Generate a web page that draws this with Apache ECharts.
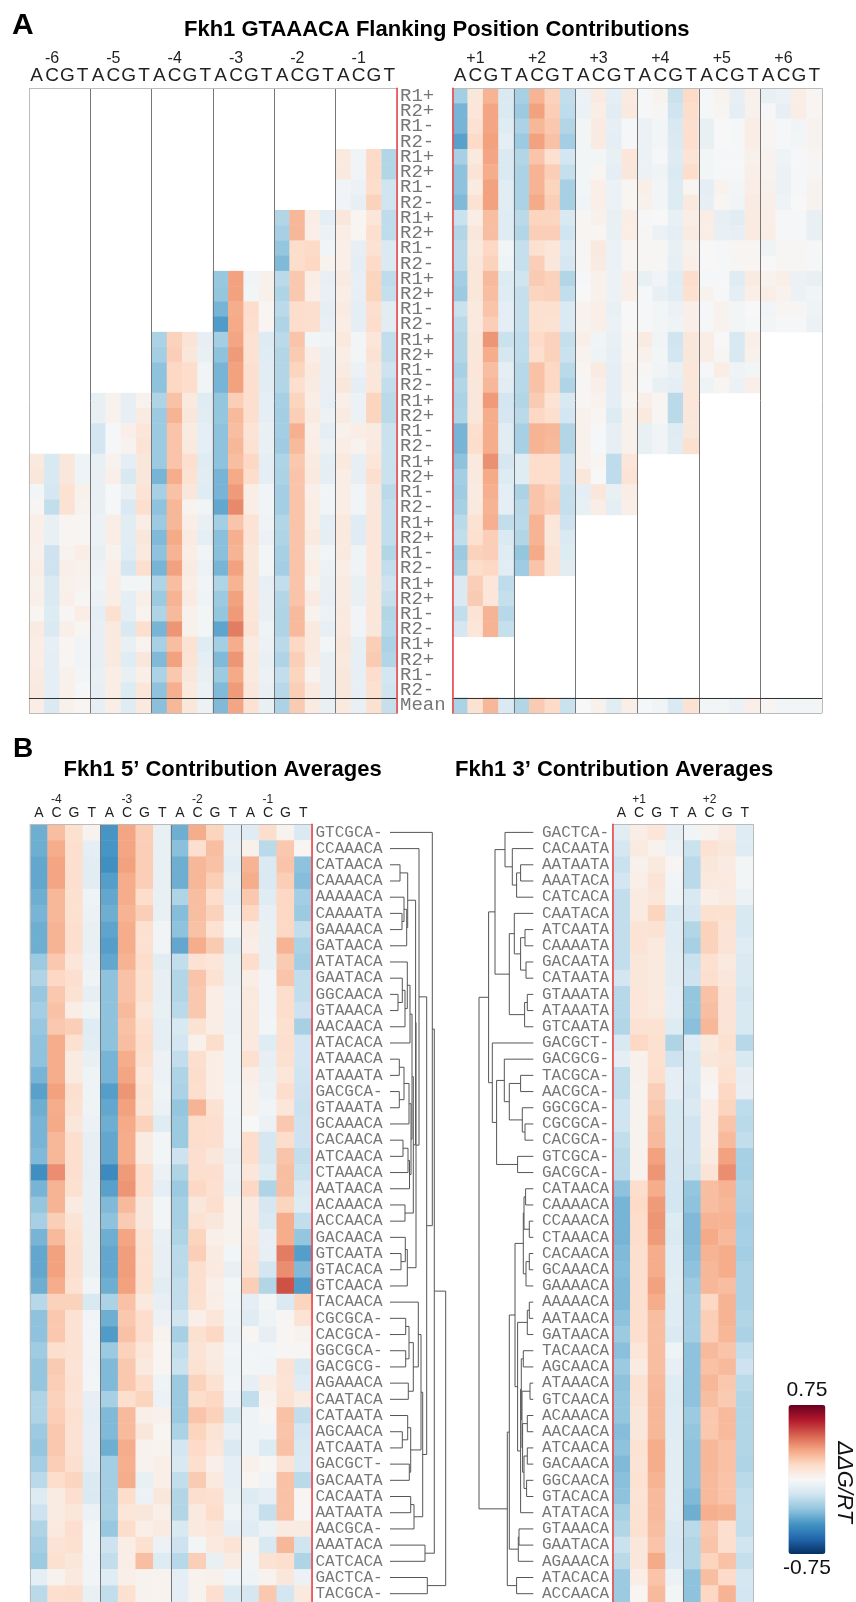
<!DOCTYPE html>
<html>
<head>
<meta charset="utf-8">
<style>html,body{margin:0;padding:0;background:#fff}#c{width:856px;height:1602px}</style>
<script src="https://cdn.jsdelivr.net/npm/echarts@6/dist/echarts.min.js"></script>
</head>
<body>
<div id="c"></div>
<script>
// ---------- labels ----------
const bases = ['A','C','G','T'];
const flankNeg = ['-6','-5','-4','-3','-2','-1'];
const flankPos = ['+1','+2','+3','+4','+5','+6'];
const avgNeg = ['-4','-3','-2','-1'];
const avgPos = ['+1','+2'];
const replicates = ['R1+','R2+','R1-','R2-'];
const meanLabel = 'Mean';
const seqs5 = ['GTCGCA-','CCAAACA','CATAACA','CAAAACA','AAAAACA','CAAAATA','GAAAACA','GATAACA','ATATACA','GAATACA','GGCAACA','GTAAACA','AACAACA','ATACACA','ATAAACA','ATAAATA','GACGCA-','GTAAATA','GCAAACA','CACAACA','ATCAACA','CTAAACA','AATAACA','ACAAACA','ACCAACA','GACAACA','GTCAATA','GTACACA','GTCAACA','TACAACA','CGCGCA-','CACGCA-','GGCGCA-','GACGCG-','AGAAACA','CAATACA','CATAATA','AGCAACA','ATCAATA','GACGCT-','GACAATA','CACAATA','AATAATA','AACGCA-','AAATACA','CATCACA','GACTCA-','TACGCA-'];
const seqs3 = ['GACTCA-','CACAATA','AATAATA','AAATACA','CATCACA','CAATACA','ATCAATA','CAAAATA','GACAATA','CATAATA','GTAAATA','ATAAATA','GTCAATA','GACGCT-','GACGCG-','TACGCA-','AACGCA-','GGCGCA-','CGCGCA-','CACGCA-','GTCGCA-','GACGCA-','CATAACA','CAAAACA','CCAAACA','CTAAACA','CACAACA','GCAAACA','GAAAACA','AAAAACA','AATAACA','GATAACA','TACAACA','AGCAACA','ATAAACA','GTCAACA','ACAAACA','AACAACA','ATCAACA','GACAACA','GGCAACA','GTACACA','ATATACA','GTAAACA','GAATACA','AGAAACA','ATACACA','ACCAACA'];

// values below in units of 1/108
const valueUnit = 108;

// ---------- panel A values, 5' positions: rows run down to the Mean row (last entry) ----------
const posM6 = [[8,-13,9,-4],[9,-13,9,-4],[-2,-14,12,4],[2,-20,12,3],[5,-6,2,2],[5,-6,2,2],[4,-17,3,6],[6,-17,5,4],[4,-12,4,3],[5,-12,5,1],[2,-11,1,6],[7,-12,5,2],[6,-7,2,-3],[6,-8,2,-3],[7,-8,4,-2],[8,-8,4,-1],[6,-12,4,2]];
const posM5 = [[-6,3,-7,3],[-6,3,-7,7],[-15,-1,5,10],[-15,-1,3,11],[-6,3,-8,9],[-6,5,-13,9],[-6,-1,-6,11],[-6,-1,-12,14],[-5,6,-9,6],[-5,6,-9,9],[-6,3,-10,8],[-5,5,-15,14],[-4,6,-2,-2],[-5,6,-8,5],[-8,13,-8,3],[-7,8,-13,14],[-7,8,-6,3],[-7,8,-10,9],[-6,6,-6,5],[-7,6,-11,10],[-7,6,-10,8]];
const posM4 = [[-26,19,11,-7],[-28,20,9,-6],[-33,17,15,-3],[-33,17,15,-3],[-25,24,8,-10],[-30,28,9,-9],[-30,23,7,-8],[-30,23,8,-8],[-30,23,14,-10],[-38,30,12,-9],[-27,24,9,-10],[-33,27,3,-3],[-30,27,6,-6],[-36,31,7,-8],[-33,28,6,-3],[-38,33,7,-5],[-25,25,6,-3],[-30,28,7,-4],[-25,26,4,-2],[-38,36,4,-2],[-27,25,12,-10],[-36,33,11,-8],[-26,22,9,-6],[-33,29,8,-5],[-34,27,9,-5]];
const posM3 = [[-31,33,-3,4],[-32,33,-2,4],[-38,30,15,2],[-46,31,14,2],[-28,32,12,-11],[-33,35,12,-10],[-38,33,14,-9],[-38,33,14,-9],[-32,20,14,-8],[-32,26,14,-8],[-33,25,11,-6],[-33,27,12,-6],[-33,25,17,-8],[-38,31,15,-8],[-38,35,6,-3],[-42,39,6,-3],[-28,23,11,-4],[-34,29,11,-5],[-34,28,9,-2],[-38,33,9,-2],[-25,28,9,-7],[-30,33,10,-6],[-32,35,10,-6],[-43,42,11,-4],[-28,30,7,-5],[-36,36,8,-6],[-30,31,8,-5],[-36,35,9,-6],[-36,32,12,-6]];
const posM2 = [[-24,27,6,-8],[-27,27,5,-5],[-32,15,16,-3],[-36,15,17,3],[-22,22,6,-7],[-25,22,5,-6],[-22,15,14,-8],[-25,15,14,-7],[-22,23,-2,-4],[-24,21,6,-6],[-24,18,8,-6],[-24,14,7,-6],[-27,18,6,-7],[-28,20,7,-5],[-28,29,5,-8],[-29,26,6,-5],[-25,22,7,-8],[-26,23,8,-8],[-28,23,5,-3],[-28,23,6,-3],[-24,23,6,-8],[-25,23,8,-8],[-27,23,4,-3],[-28,23,6,-5],[-20,23,3,-6],[-24,23,7,-7],[-25,26,3,-5],[-25,26,8,-7],[-22,17,8,-2],[-25,20,7,-6],[-20,18,3,-6],[-23,20,8,-6],[-26,21,7,-6]];
const posM1 = [[8,-3,16,-24],[8,-3,16,-24],[-3,-5,15,-16],[-3,-7,19,-16],[9,2,10,-21],[6,2,14,-21],[5,-7,12,-12],[5,-8,16,-12],[7,-7,18,-21],[6,-7,18,-19],[7,-8,14,-9],[6,-8,15,-9],[8,-2,10,-20],[6,-2,12,-20],[7,-5,9,-17],[9,-8,10,-20],[5,-5,18,-22],[7,-5,18,-22],[4,6,7,-18],[6,3,8,-18],[8,-7,10,-18],[6,-7,14,-18],[6,-3,9,-22],[6,-3,9,-20],[8,-10,10,-20],[8,-10,10,-20],[8,-4,10,-24],[6,-4,10,-20],[7,-6,9,-17],[7,-6,9,-19],[8,-3,10,-24],[8,-3,9,-23],[9,-7,20,-26],[8,-7,21,-24],[9,-7,15,-15],[9,-7,13,-16],[8,-6,13,-19]];
// 3' positions: rows run from the top, the last entry is the Mean row
const posP1 = [[-28,9,28,-12],[-38,10,32,-12],[-38,12,32,-10],[-44,16,33,-8],[-27,8,32,-12],[-33,11,30,-12],[-33,7,33,-9],[-36,12,33,-9],[-18,6,25,-10],[-24,9,25,-10],[-22,8,17,-2],[-22,9,19,-4],[-28,9,26,-11],[-30,9,25,-10],[-18,8,23,-8],[-22,8,20,-8],[-24,9,36,-18],[-24,9,30,-14],[-27,10,25,-8],[-24,9,27,-9],[-26,9,35,-15],[-25,9,30,-14],[-38,14,30,-9],[-38,15,30,-9],[-33,8,37,-14],[-28,8,31,-11],[-29,7,29,-8],[-27,8,28,-8],[-22,12,29,-20],[-20,13,20,-12],[-30,19,20,-10],[-27,15,17,-9],[-12,20,10,-21],[-12,21,10,-19],[-20,11,28,-23],[-14,10,28,-19],[-26,12,27,-12]];
const posP2 = [[-27,28,19,-20],[-30,33,20,-21],[-26,27,22,-24],[-30,33,24,-28],[-24,23,13,-15],[-26,28,20,-19],[-26,28,18,-27],[-26,31,20,-27],[-22,18,18,-13],[-24,20,20,-16],[-19,13,10,-12],[-19,20,9,-14],[-16,21,19,-24],[-19,18,19,-20],[-19,13,13,-12],[-19,13,12,-12],[-21,16,19,-19],[-21,14,19,-18],[-23,24,17,-22],[-23,24,17,-25],[-24,21,11,-13],[-22,17,14,-15],[-27,28,27,-24],[-27,28,26,-24],[-10,15,15,-17],[-10,15,15,-17],[-26,23,19,-19],[-23,23,20,-19],[-22,28,10,-17],[-24,28,9,-12],[-32,31,11,-11],[-29,23,11,-9],[-24,21,16,-18]];
const posP3 = [[-5,7,-8,7],[-5,6,-9,8],[-2,7,-7,-1],[-2,7,-8,-1],[-2,-2,-6,10],[-2,2,-8,9],[-2,5,-5,2],[-3,5,-5,2],[1,4,-6,6],[2,2,-6,6],[1,8,-5,2],[1,7,-5,2],[-1,4,-5,5],[0,4,-5,5],[3,5,-6,0],[3,5,-5,0],[5,-3,-6,2],[3,-4,-7,2],[2,7,-8,3],[1,5,-8,3],[1,3,-8,2],[4,2,-11,4],[4,-1,-7,4],[4,-1,-7,4],[4,2,-21,10],[9,0,-21,11],[-8,9,-6,6],[-6,6,-8,5],[0,4,-9,5]];
const posP4 = [[-1,3,-18,16],[-1,1,-16,15],[-5,-2,-13,14],[-5,-2,-12,14],[-5,-1,-11,11],[-5,-4,-12,15],[5,-2,-11,2],[4,-2,-11,8],[-1,0,-6,6],[1,-5,-8,7],[1,1,-6,4],[1,1,-7,5],[-6,-3,-10,15],[-1,-6,-9,13],[-1,-2,-5,5],[-1,-2,-4,5],[7,-3,-16,9],[4,-2,-15,9],[1,-3,-6,10],[-1,-6,-8,9],[5,2,-22,10],[8,1,-22,9],[-6,-3,-10,9],[-6,-3,-9,13],[-1,-3,-12,12]];
const posP5 = [[-1,3,-7,4],[-1,2,-8,4],[-6,0,-1,6],[-6,0,-1,6],[-2,-1,-1,4],[-2,-1,-1,5],[-8,3,-2,6],[-7,2,-3,7],[6,-7,-9,7],[6,-6,-7,7],[0,-1,2,2],[0,-1,1,2],[-1,-1,-10,7],[3,-1,-8,5],[-1,3,-2,0],[-1,3,-2,-1],[6,0,-13,5],[6,1,-13,4],[-1,6,-4,-2],[-4,2,-5,5],[-2,-2,-5,5]];
const posP6 = [[-6,-5,6,2],[-1,-7,6,2],[2,-1,-3,3],[2,-1,-2,3],[3,-4,-1,1],[3,-5,-1,1],[4,-5,-1,3],[5,-4,0,3],[5,-1,-1,-6],[6,-1,-1,-6],[-4,1,1,-1],[0,1,1,-1],[3,5,-5,-6],[6,3,-5,-3],[-3,2,1,-4],[-2,-1,-1,-5],[2,-2,-2,-2]];

// ---------- panel B values ----------
const avg5 = [
[-40,25,13,3,-48,32,20,-6,-40,30,18,-8,-10,15,3,-12],
[-40,30,14,-8,-48,32,20,-6,-34,14,25,-6,4,-22,22,2],
[-42,32,14,-9,-50,33,20,-6,-40,27,24,-9,28,-12,23,-33],
[-42,32,14,-9,-45,30,20,-6,-40,27,20,-6,30,-12,20,-35],
[-40,27,13,-4,-42,30,15,-6,-25,25,15,-8,22,-10,17,-28],
[-38,27,13,-5,-40,28,20,-6,-35,25,19,-5,17,-7,17,-30],
[-40,28,14,-6,-43,30,13,-3,-33,24,12,-2,7,-6,17,-20],
[-40,28,14,-6,-45,30,13,-3,-42,30,21,-10,6,-6,28,-26],
[-30,22,10,-5,-42,28,15,-9,-20,12,10,-6,15,-6,21,-28],
[-25,17,14,-4,-33,24,13,-7,-24,23,12,-6,6,-3,23,-20],
[-31,22,12,-7,-33,24,13,-7,-24,22,6,-5,8,-3,15,-20],
[-28,24,6,-4,-33,26,10,-6,-22,22,6,-5,8,-3,15,-17],
[-31,22,20,-10,-33,24,13,-8,-13,12,6,-5,8,-2,13,-27],
[-33,30,13,-9,-33,25,15,-8,-15,4,15,-4,8,-10,14,-15],
[-33,30,7,-6,-38,30,13,-5,-20,14,6,-4,13,-7,13,-15],
[-38,30,7,-4,-38,32,10,-5,-25,15,6,-4,6,-6,10,-16],
[-44,33,14,-4,-45,36,12,-4,-26,14,6,-3,4,-5,15,-17],
[-40,30,12,-4,-42,33,11,-5,-32,28,12,-3,4,-3,10,-18],
[-38,31,9,-5,-40,31,19,-10,-30,15,14,-4,0,-5,22,-17],
[-38,27,14,-7,-42,30,7,-2,-30,15,14,-4,15,-14,15,-17],
[-36,27,14,-7,-42,30,7,-2,-17,14,9,-6,15,-14,23,-20],
[-50,38,14,-7,-52,35,15,-5,-25,14,14,-5,10,-11,25,-18],
[-38,28,13,-6,-44,36,15,-8,-30,17,13,-6,17,-25,25,-13],
[-32,28,7,-6,-36,26,9,-2,-27,9,14,3,8,-14,18,-11],
[-27,20,11,-6,-33,21,9,-2,-27,12,9,3,8,-12,30,-20],
[-38,26,13,-6,-40,32,12,-6,-25,18,5,3,10,-7,30,-32],
[-42,33,14,-6,-42,34,13,-7,-22,20,7,-2,11,-7,42,-45],
[-42,33,14,-6,-42,34,13,-7,-22,14,8,-6,12,-15,38,-36],
[-40,30,12,-3,-40,33,13,-9,-20,14,5,-2,20,-24,52,-46],
[-23,19,19,-13,-26,24,8,-7,-20,13,6,-3,-8,-2,-12,18],
[-33,22,12,-3,-40,22,15,-5,-16,5,10,-4,-10,-4,1,11],
[-33,22,12,-3,-46,24,15,3,-27,13,17,-5,2,-7,2,3],
[-29,14,12,-2,-30,19,10,2,-20,11,7,-3,-3,-2,1,1],
[-32,21,11,-3,-36,22,8,2,-18,12,8,-4,-2,-3,12,-13],
[-32,20,12,-2,-36,22,15,-4,-30,19,12,-3,-7,6,11,-10],
[-25,19,11,-7,-27,14,18,-5,-30,15,17,-5,-20,3,12,7],
[-25,20,13,-8,-36,26,5,4,-30,23,19,-13,-4,1,24,-20],
[-30,22,12,-7,-36,26,9,2,-26,18,11,-6,-4,-3,23,-15],
[-32,22,12,-7,-40,30,3,3,-15,16,10,-12,-4,-11,24,-13],
[-28,20,14,-8,-28,29,3,5,-13,14,5,-8,4,1,11,-12],
[-22,15,18,-12,-28,30,-6,5,-20,21,8,-8,2,-3,24,-22],
[-11,7,14,-12,-28,15,-5,9,-24,14,13,-6,-11,-8,24,2],
[-17,7,10,-5,-27,10,9,5,-24,8,15,-4,-8,-19,24,1],
[-25,8,14,-2,-31,15,5,7,-13,8,10,-7,-10,-5,7,7],
[-28,11,13,-2,-17,6,13,-5,-17,-2,8,11,3,-13,27,-16],
[-30,13,9,-3,-20,6,25,-11,-23,20,-6,7,-3,12,14,-25],
[-8,3,8,-3,-10,5,3,3,-8,3,4,-3,-4,3,9,-5],
[-22,14,15,-6,-20,13,3,3,-8,3,14,-12,-14,22,-15,8]];
const avg3 = [
[-9,6,10,-7,-3,3,7,-10],[-14,8,3,-5,-18,12,9,-10],[-18,4,8,2,-22,9,7,-2],[-15,5,11,-3,-22,8,8,-2],
[-20,7,10,-4,-13,5,7,-5],[-20,7,18,-12,-15,13,13,-13],[-20,11,12,-10,-24,19,11,-13],[-20,11,8,-10,-27,19,11,-10],
[-20,9,8,-9,-18,13,8,-12],[-15,9,8,-9,-17,14,9,-12],[-23,10,8,-8,-32,24,11,-14],[-23,10,8,-8,-32,25,11,-13],
[-24,12,12,-11,-34,27,11,-13],[-13,17,13,-25,-10,8,13,-23],[-8,4,13,-17,-13,9,11,-13],[-20,4,15,-8,-13,3,13,-8],
[-20,3,20,-8,-14,1,17,-7],[-16,3,22,-13,-12,6,18,-21],[-16,3,25,-13,-16,6,23,-22],[-20,3,26,-13,-16,6,26,-20],
[-22,3,33,-14,-16,7,33,-27],[-22,3,36,-14,-18,11,38,-27],[-33,15,30,-15,-32,25,28,-25],[-38,16,35,-15,-33,25,27,-26],
[-38,15,36,-11,-36,28,28,-28],[-38,15,35,-12,-36,31,26,-27],[-36,14,30,-10,-35,28,30,-28],[-35,14,30,-10,-33,27,30,-26],
[-36,14,33,-9,-30,27,25,-26],[-36,14,30,-10,-28,17,28,-26],[-33,14,25,-10,-28,20,28,-24],[-30,14,25,-12,-28,20,27,-26],
[-34,10,25,-4,-33,26,23,-20],[-30,7,25,-7,-33,24,26,-17],[-33,12,26,-10,-33,27,22,-22],[-32,11,27,-11,-33,25,21,-24],
[-32,9,27,-10,-30,22,26,-24],[-35,9,27,-10,-32,22,26,-24],[-33,12,30,-9,-33,27,24,-24],[-36,11,30,-9,-33,27,24,-25],
[-34,12,28,-9,-33,26,23,-22],[-33,11,26,-9,-36,26,23,-20],[-27,12,26,-9,-40,29,28,-19],[-24,13,25,-12,-22,22,14,-20],
[-18,9,23,-13,-24,23,14,-16],[-22,9,31,-12,-24,18,24,-19],[-30,6,23,-5,-33,25,16,-14],[-30,2,26,-2,-33,17,28,-15]];

// ---------- dendrograms: [height, childA, childB]; a number is a leaf row ----------
const t5A = [17.7,[10,2,3],[16.7,[14,4,[12,5,6]],7]];
const t5B = [20,[17.3,8,[15,[12.3,9,[8,10,11]],12]],13];
const t5C = [19,[14,[9.3,14,15],[9.3,16,17]],18];
const t5D = [19.5,[18,[13,19,20],21],22];
const t5E = [17.3,[15.3,25,[11,26,27]],28];
const t5Upper = [29,1,[26,[25.6,t5A,[23.3,[22,t5B,[21,t5C,t5D]],[15,23,24]]],t5E]];
const t5X = [23.3,[19,[15.7,30,31],[15.7,32,33]],[18.3,34,35]];
const t5Y = [20.7,[17.7,36,[12.3,37,38]],[19.3,39,40]];
const t5Z = [24,[20.7,41,42],43];
const t5Lower = [32.7,[31,[28.3,29,t5X],t5Y],t5Z];
const tree5 = [55.7,[44.3,[42.3,0,[36.7,t5Upper,t5Lower]],[35,44,45]],[37.3,46,47]];

const t3A = [38.3,[28.3,0,[21,1,[16.7,[12.7,2,3],4]]],[24,[19,5,[12.7,[8.3,6,7],[7.3,8,9]]],[8.7,[6,10,11],12]]];
const t3B = [41,13,[36.7,[29,14,[24,[12.7,15,16],[11,17,[8.3,18,19]]]],[15.7,20,21]]];
const t3C = [10,[9.3,[7.7,22,23],[4,24,25]],[7.3,[4,26,27],28]];
const t3W = [12,[10,32,33],[11.3,[3.3,34,35],[10.7,[6,36,37],[9.3,[6,38,39],[6.7,40,41]]]]];
const t3D = [15.7,[6,[4,29,30],31],[12.7,t3W,42]];
const tree3 = [54.3,[44.7,t3A,t3B],[26,[24,[18.3,t3C,t3D],[15,[14.3,43,44],45]],[16.7,46,47]]];

// ---------- colour scale ----------
const scaleColors = ['#053061','#2166ac','#4393c3','#92c5de','#d1e5f0','#f7f7f7','#fddbc7','#f4a582','#d6604d','#b2182b','#67001f'];

// ---------- helpers ----------
const rowLabels = [];
for (let i = 0; i < 10; i++) rowLabels.push(...replicates);
rowLabels.push(meanLabel);
const LAST = rowLabels.length - 1;

function letters(n){ const a=[]; for(let i=0;i<n;i++) a.push(...bases); return a; }
function posAxis(names){ const a=[]; names.forEach(p=>a.push('',p,'','')); return a; }

function cellsNeg(list){           // rows end at the Mean row
  const out=[];
  list.forEach((rows,p)=>rows.forEach((vals,r)=>vals.forEach((v,b)=>
    out.push([p*4+b, LAST-(rows.length-1-r), v/valueUnit]))));
  return out;
}
function cellsPos(list){           // rows start at the top, last entry is Mean
  const out=[];
  list.forEach((rows,p)=>rows.forEach((vals,r)=>vals.forEach((v,b)=>
    out.push([p*4+b, r===rows.length-1?LAST:r, v/valueUnit]))));
  return out;
}
function cellsAvg(rows){
  const out=[];
  rows.forEach((vals,r)=>vals.forEach((v,c)=>out.push([c,r,v/valueUnit])));
  return out;
}
function segments(node,out){
  if(typeof node==='number') return {y:node,h:0};
  const a=segments(node[1],out), b=segments(node[2],out), h=node[0];
  out.push([a.h,a.y,h,a.y],[b.h,b.y,h,b.y],[h,a.y,h,b.y]);
  return {y:(a.y+b.y)/2,h:h};
}
function treeData(t){ const o=[]; segments(t,o); return o; }

const SANS='"Liberation Sans",Arial,sans-serif', MONO='"Liberation Mono","Courier New",monospace';

function xPair(grid,names,letterSize,posSize,letterMargin,posOffset){
  const inner=['#bbb']; for(let i=1;i<names.length;i++) inner.push('#777'); inner.push('#bbb');
  return [{
    type:'category',gridIndex:grid,position:'top',data:letters(names.length),z:5,
    axisTick:{show:false},axisLine:{show:false},
    axisLabel:{interval:0,margin:letterMargin,fontSize:letterSize,fontFamily:SANS,color:'#222'},
    splitLine:{show:true,interval:(i)=>i%4===0,lineStyle:{color:inner,width:1}}
  },{
    type:'category',gridIndex:grid,position:'top',offset:posOffset,data:posAxis(names),z:5,
    axisTick:{show:false},axisLine:{show:false},splitLine:{show:false},
    axisLabel:{interval:0,margin:letterMargin,fontSize:posSize,fontFamily:SANS,color:'#222'}
  }];
}
function yAxis(grid,data,pos,withMean,labelSize,margin,showLabels){
  return {
    type:'category',gridIndex:grid,data:data,inverse:true,position:pos,z:6,
    axisTick:{show:false},
    axisLine:{show:true,onZero:false,lineStyle:{color:'#f0494f',width:1.6}},
    axisLabel:{show:showLabels,interval:0,margin:margin,fontSize:labelSize,fontFamily:MONO,color:'#777'},
    splitLine:{show:true,
      interval:(i)=>withMean?(i===0||i===LAST):i===0,
      lineStyle:{color:withMean?['#bbb','#333','#bbb']:['#bbb','#777'],width:1}}
  };
}
function heat(xi,yi,data){
  return {type:'heatmap',xAxisIndex:xi,yAxisIndex:yi,data:data,z:2,progressive:0,silent:true,itemStyle:{borderWidth:0}};
}
function tree(xi,yi,data){
  return {type:'custom',xAxisIndex:xi,yAxisIndex:yi,data:data,silent:true,clip:false,z:3,
    encode:{x:[0,2],y:[1,3]},
    renderItem:(p,api)=>{
      const a=api.coord([api.value(0),api.value(1)]), b=api.coord([api.value(2),api.value(3)]);
      return {type:'line',shape:{x1:a[0],y1:a[1],x2:b[0],y2:b[1]},style:{stroke:'#555',lineWidth:1,fill:null}};
    }};
}
function treeX(grid,max,inverse){ return {type:'value',gridIndex:grid,min:0,max:max,inverse:inverse,show:false}; }
function treeY(grid){ return {type:'value',gridIndex:grid,min:-0.5,max:47.5,inverse:true,show:false}; }

const titleStyle={fontFamily:SANS,fontWeight:'bold',color:'#000'};
const chart=echarts.init(document.getElementById('c'),null,{renderer:'canvas',width:856,height:1602});
chart.setOption({
  animation:false,
  backgroundColor:'#fff',
  title:[
    {text:'A',left:12,top:11,padding:0,textStyle:{...titleStyle,fontSize:30}},
    {text:'Fkh1 GTAAACA Flanking Position Contributions',left:184,top:18.5,padding:0,textStyle:{...titleStyle,fontSize:22}},
    {text:'B',left:13,top:735.5,padding:0,textStyle:{...titleStyle,fontSize:28}},
    {text:'Fkh1 5\u2019 Contribution Averages',left:63.5,top:758.5,padding:0,textStyle:{...titleStyle,fontSize:22}},
    {text:'Fkh1 3\u2019 Contribution Averages',left:455,top:758.5,padding:0,textStyle:{...titleStyle,fontSize:22}}
  ],
  grid:[
    {left:29,top:88.3,width:368,height:624.7},
    {left:452.3,top:88.3,width:369.7,height:624.7},
    {left:30,top:824.3,width:282,height:777.5},
    {left:612.7,top:824.3,width:141,height:777.5},
    {left:390,top:824.3,width:60,height:777.5},
    {left:463.3,top:824.3,width:70,height:777.5}
  ],
  xAxis:[
    ...xPair(0,flankNeg,19,16,3,19),
    ...xPair(1,flankPos,19,16,3,19),
    ...xPair(2,avgNeg,14,12,4,15),
    ...xPair(3,avgPos,14,12,4,15),
    treeX(4,60,false),treeX(5,70,true)
  ],
  yAxis:[
    yAxis(0,rowLabels,'right',true,19,3,true),
    yAxis(1,rowLabels,'left',true,19,3,false),
    yAxis(2,seqs5,'right',false,16,3.5,true),
    yAxis(3,seqs3,'left',false,16,3.5,true),
    treeY(4),treeY(5)
  ],
  visualMap:{
    type:'continuous',min:-0.75,max:0.75,seriesIndex:[0,1,2,3],dimension:2,calculable:false,
    orient:'vertical',left:768,top:1365,itemWidth:37,itemHeight:149,
    text:['0.75','-0.75'],textGap:4,
    textStyle:{fontFamily:SANS,fontSize:21,color:'#111'},
    inRange:{color:scaleColors},hoverLink:false,realtime:false
  },
  series:[
    heat(0,0,cellsNeg([posM6,posM5,posM4,posM3,posM2,posM1])),
    heat(2,1,cellsPos([posP1,posP2,posP3,posP4,posP5,posP6])),
    heat(4,2,cellsAvg(avg5)),
    heat(6,3,cellsAvg(avg3)),
    tree(8,4,treeData(tree5)),
    tree(9,5,treeData(tree3))
  ],
  graphic:[{
    type:'text',x:844,y:1482,rotation:-Math.PI/2,silent:true,
    style:{text:'\u0394\u0394G/RT',fontFamily:SANS,fontStyle:'italic',fontSize:22,fill:'#111',textAlign:'center',textVerticalAlign:'middle'}
  }]
});
</script>
</body>
</html>
